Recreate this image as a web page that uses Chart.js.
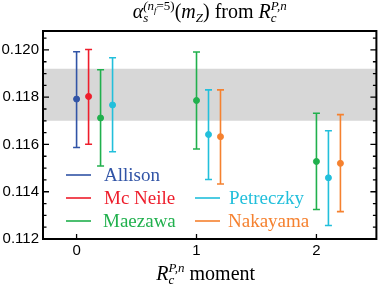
<!DOCTYPE html>
<html>
<head>
<meta charset="utf-8">
<script src="https://cdn.jsdelivr.net/npm/chart.js@4.4.1/dist/chart.umd.min.js"></script>
<style>
  html, body { margin: 0; padding: 0; background: #fff; }
  canvas { display: block; }
</style>
</head>
<body>
<canvas id="grafik" width="382" height="286"></canvas>
<script>
// nilai
const xTicks = [0, 1, 2];
const yTicks = [0.112, 0.114, 0.116, 0.118, 0.120];
const yMinor = [0.1125, 0.113, 0.1135, 0.1145, 0.115, 0.1155, 0.1165, 0.117, 0.1175, 0.1185, 0.119, 0.1195, 0.1205];

const bandLo = 0.1170;
const bandHi = 0.1192;

const allisonX = [0.0];
const allisonVal = [0.11792];
const allisonLo = [0.11587];
const allisonHi = [0.11992];

const mcneileX = [0.1];
const mcneileVal = [0.11803];
const mcneileLo = [0.11601];
const mcneileHi = [0.12002];

const maezawaX = [0.2, 1.0, 2.0];
const maezawaVal = [0.11712, 0.11786, 0.11528];
const maezawaLo = [0.11509, 0.11581, 0.11325];
const maezawaHi = [0.11916, 0.11991, 0.11732];

const petreczkyX = [0.3, 1.1, 2.1];
const petreczkyVal = [0.11767, 0.11642, 0.11459];
const petreczkyLo = [0.11569, 0.11452, 0.11257];
const petreczkyHi = [0.11967, 0.11831, 0.11658];

const nakayamaX = [1.2, 2.2];
const nakayamaVal = [0.11633, 0.11520];
const nakayamaLo = [0.11433, 0.11316];
const nakayamaHi = [0.11831, 0.11726];

const warna = {
  Allison: '#3154a6',
  'Mc Neile': '#ee1d2b',
  Maezawa: '#20b04d',
  Petreczky: '#22bfdb',
  Nakayama: '#f5812f'
};

const seri = [
  { nama: 'Allison', x: allisonX, v: allisonVal, lo: allisonLo, hi: allisonHi },
  { nama: 'Mc Neile', x: mcneileX, v: mcneileVal, lo: mcneileLo, hi: mcneileHi },
  { nama: 'Maezawa', x: maezawaX, v: maezawaVal, lo: maezawaLo, hi: maezawaHi },
  { nama: 'Petreczky', x: petreczkyX, v: petreczkyVal, lo: petreczkyLo, hi: petreczkyHi },
  { nama: 'Nakayama', x: nakayamaX, v: nakayamaVal, lo: nakayamaLo, hi: nakayamaHi }
];

const xMin = -0.28, xMax = 2.5;

const datasets = [];
// pita abu-abu
datasets.push({
  type: 'line',
  data: [{ x: xMin, y: bandHi }, { x: xMax, y: bandHi }],
  borderWidth: 0,
  pointRadius: 0,
  backgroundColor: '#d7d7d7',
  fill: { value: bandLo },
  order: 100
});

seri.forEach(s => {
  const c = warna[s.nama];
  s.x.forEach((xv, i) => {
    datasets.push({
      type: 'line',
      data: [{ x: xv, y: s.lo[i] }, { x: xv, y: s.hi[i] }],
      borderColor: c,
      borderWidth: 1.6,
      pointStyle: 'line',
      pointRadius: 3.5,
      pointBorderWidth: 1.6,
      pointBorderColor: c,
      fill: false,
      order: 5
    });
  });
  datasets.push({
    type: 'scatter',
    data: s.x.map((xv, i) => ({ x: xv, y: s.v[i] })),
    backgroundColor: c,
    borderColor: c,
    pointRadius: 3,
    order: 1
  });
});

const S = 20, s2 = 13;
const judul = [
  { t: 'α', i: 1, s: S },
  { stack: [
    [{ t: '(n', i: 1, s: s2, dy: -8 }, { t: 'f', i: 1, s: 9, dy: -5 }, { t: '=5)', s: s2, dy: -8 }],
    [{ t: 's', i: 1, s: s2, dy: 4 }]
  ] },
  { t: '(', s: S }, { t: 'm', i: 1, s: S }, { t: 'Z', i: 1, s: s2, dy: 4 },
  { t: ') from ', s: S }, { t: 'R', i: 1, s: S },
  { stack: [[{ t: 'P,n', i: 1, s: s2, dy: -8 }], [{ t: 'c', i: 1, s: s2, dy: 4 }]] }
];
const judulX = [
  { t: 'R', i: 1, s: S },
  { stack: [[{ t: 'P,n', i: 1, s: s2, dy: -8 }], [{ t: 'c', i: 1, s: s2, dy: 4 }]] },
  { t: ' moment', s: S }
];

function teks(ctx, parts, x, y, gambar) {
  let cx = x;
  parts.forEach(p => {
    if (p.stack) {
      let w = 0;
      p.stack.forEach(g => { w = Math.max(w, teks(ctx, g, cx, y, gambar)); });
      cx += w;
    } else {
      ctx.font = (p.i ? 'italic ' : '') + p.s + 'px "Liberation Serif"';
      if (gambar) ctx.fillText(p.t, cx, y + (p.dy || 0));
      cx += ctx.measureText(p.t).width;
    }
  });
  return cx - x;
}

function teksTengah(ctx, parts, cx, y) {
  const w = teks(ctx, parts, 0, 0, false);
  teks(ctx, parts, cx - w / 2, y, true);
}

const hiasan = {
  id: 'hiasan',
  afterDatasetsDraw(chart) {
    const { ctx, chartArea: a, scales } = chart;
    ctx.save();
    ctx.strokeStyle = '#000';
    ctx.lineWidth = 1.3;
    ctx.beginPath();
    yTicks.forEach(v => {
      const py = scales.y.getPixelForValue(v);
      ctx.moveTo(a.left, py); ctx.lineTo(a.left + 6, py);
      ctx.moveTo(a.right, py); ctx.lineTo(a.right - 6, py);
    });
    yMinor.forEach(v => {
      const py = scales.y.getPixelForValue(v);
      ctx.moveTo(a.left, py); ctx.lineTo(a.left + 3.5, py);
      ctx.moveTo(a.right, py); ctx.lineTo(a.right - 3.5, py);
    });
    xTicks.forEach(v => {
      const px = scales.x.getPixelForValue(v);
      ctx.moveTo(px, a.bottom); ctx.lineTo(px, a.bottom - 5);
    });
    ctx.stroke();
    ctx.lineWidth = 2;
    ctx.strokeRect(a.left, a.top, a.right - a.left, a.bottom - a.top);
    ctx.restore();
  },
  afterDraw(chart) {
    const { ctx, chartArea: a } = chart;
    ctx.save();
    ctx.fillStyle = '#000';
    ctx.textBaseline = 'alphabetic';
    ctx.textAlign = 'left';
    const tengah = (a.left + a.right) / 2;
    teksTengah(ctx, judul, tengah, 18);
    teksTengah(ctx, judulX, tengah - 4, 280);

    // legenda
    const item = [
      { nama: 'Allison', x1: 66, x2: 91, tx: 104, y: 175 },
      { nama: 'Mc Neile', x1: 66, x2: 91, tx: 104, y: 198 },
      { nama: 'Maezawa', x1: 66, x2: 91, tx: 103, y: 221 },
      { nama: 'Petreczky', x1: 195, x2: 220, tx: 229, y: 198 },
      { nama: 'Nakayama', x1: 195, x2: 220, tx: 228, y: 221 }
    ];
    ctx.font = '19px "Liberation Serif"';
    ctx.textBaseline = 'middle';
    item.forEach(it => {
      ctx.strokeStyle = warna[it.nama];
      ctx.lineWidth = 1.6;
      ctx.beginPath();
      ctx.moveTo(it.x1, it.y); ctx.lineTo(it.x2, it.y);
      ctx.stroke();
      ctx.fillStyle = warna[it.nama];
      ctx.fillText(it.nama, it.tx, it.y + 1);
    });
    ctx.restore();
  }
};

const tickFont = { family: '"Liberation Sans", Arial, sans-serif', size: 15 };

new Chart(document.getElementById('grafik'), {
  type: 'scatter',
  data: { datasets },
  options: {
    responsive: false,
    animation: false,
    devicePixelRatio: 1,
    layout: { padding: { top: 31, right: 2, left: 0, bottom: 0 } },
    plugins: { legend: { display: false }, title: { display: false }, tooltip: { enabled: false } },
    scales: {
      x: {
        type: 'linear',
        min: xMin,
        max: xMax,
        grid: { display: false, drawTicks: false },
        border: { display: false },
        ticks: { font: tickFont, color: '#000', padding: 3 },
        afterBuildTicks: s => { s.ticks = xTicks.map(v => ({ value: v })); },
        afterFit: s => { s.height = 47; }
      },
      y: {
        type: 'linear',
        min: 0.112,
        max: 0.1208,
        grid: { display: false, drawTicks: false },
        border: { display: false },
        ticks: { font: tickFont, color: '#000', padding: 4, callback: v => v.toFixed(3) },
        afterBuildTicks: s => { s.ticks = yTicks.map(v => ({ value: v })); },
        afterFit: s => { s.width = 43; }
      }
    }
  },
  plugins: [hiasan]
});
</script>
</body>
</html>
